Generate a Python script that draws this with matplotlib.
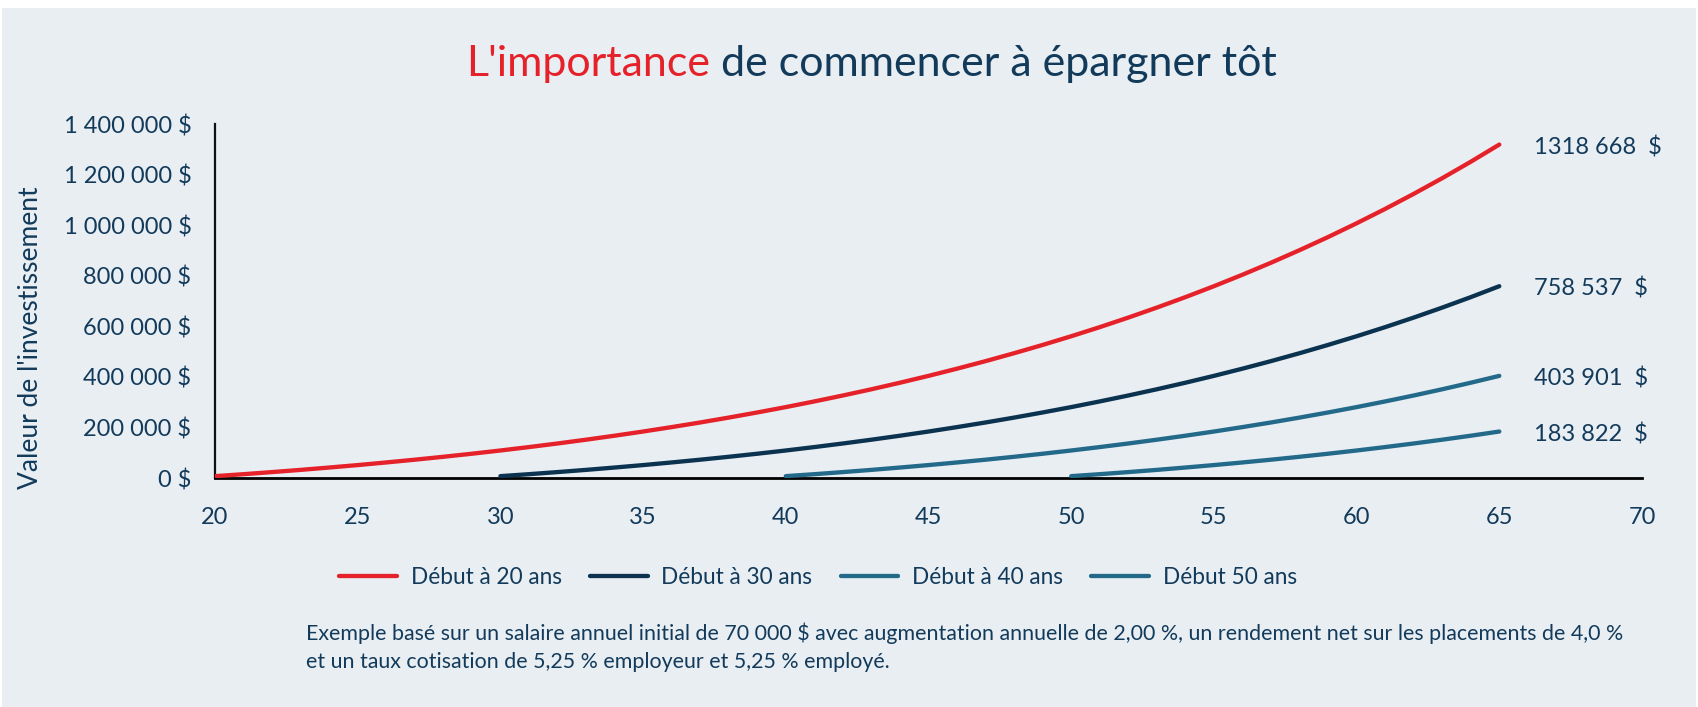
import matplotlib
matplotlib.use("Agg")
import matplotlib.pyplot as plt
from matplotlib.patches import Rectangle

plt.rcParams['font.family'] = ['Lato', 'DejaVu Sans']

# ages (x) and investment values
ages_20 = list(range(20, 66))
ages_30 = list(range(30, 66))
ages_40 = list(range(40, 66))
ages_50 = list(range(50, 66))

debut_20 = [7350, 15100, 23400, 32100, 41400, 51100, 61500, 72400, 83900, 96000,
            108800, 122300, 136500, 151500, 167200, 183800, 201300, 219600, 238900, 259200,
            280400, 302800, 326300, 350900, 376800, 403900, 432400, 462200, 493500, 526300,
            560600, 596600, 634400, 673900, 715200, 758500, 803900, 851300, 901000, 952900,
            1007300, 1064100, 1123600, 1185700, 1250700, 1318668]
debut_30 = [7350, 15100, 23400, 32100, 41400, 51100, 61500, 72400, 83900, 96000,
            108800, 122300, 136500, 151500, 167200, 183800, 201300, 219600, 238900, 259200,
            280400, 302800, 326300, 350900, 376800, 403900, 432400, 462200, 493500, 526300,
            560600, 596600, 634400, 673900, 715200, 758537]
debut_40 = [7350, 15100, 23400, 32100, 41400, 51100, 61500, 72400, 83900, 96000,
            108800, 122300, 136500, 151500, 167200, 183800, 201300, 219600, 238900, 259200,
            280400, 302800, 326300, 350900, 376800, 403901]
debut_50 = [7350, 15100, 23400, 32100, 41400, 51100, 61500, 72400, 83900, 96000,
            108800, 122300, 136500, 151500, 167200, 183822]

series_names = ["Début à 20 ans", "Début à 30 ans", "Début à 40 ans", "Début 50 ans"]
end_labels = ["1318 668  $", "758 537  $", "403 901  $", "183 822  $"]

y_ticks = [0, 200000, 400000, 600000, 800000, 1000000, 1200000, 1400000]
y_tick_labels = ["0 $", "200 000 $", "400 000 $", "600 000 $", "800 000 $",
                 "1 000 000 $", "1 200 000 $", "1 400 000 $"]
x_ticks = [20, 25, 30, 35, 40, 45, 50, 55, 60, 65, 70]

RED = "#E52229"
NAVY = "#0B3350"
TEAL = "#236A8A"
TXT = "#123A5A"
BG = "#E9EEF3"

W, H = 1698, 707
fig = plt.figure(figsize=(W / 100, H / 100), dpi=100, facecolor="white")
fig.patches.append(Rectangle((2 / W, 0), 1694 / W, 699 / H, transform=fig.transFigure,
                             facecolor=BG, edgecolor="none", zorder=-10))

ax = fig.add_axes([215 / W, 1 - 478 / H, 1427 / W, 354 / H])
ax.set_facecolor("none")

xs = [ages_20, ages_30, ages_40, ages_50]
ys = [debut_20, debut_30, debut_40, debut_50]
colors = [RED, NAVY, TEAL, TEAL]
for x, y, c, name, lab in zip(xs, ys, colors, series_names, end_labels):
    ax.plot(x, y, color=c, lw=3.1, solid_capstyle="round", label=name, zorder=3)
    ax.annotate(lab, xy=(x[-1], y[-1]), xytext=(25, -2), textcoords="offset points",
                va="center", ha="left", fontsize=17, color=TXT)

ax.set_xlim(20, 70)
ax.set_ylim(0, 1400000)
ax.set_xticks(x_ticks)
ax.set_yticks(y_ticks)
ax.set_yticklabels(y_tick_labels)
ax.tick_params(length=0, labelsize=17, labelcolor=TXT)
ax.tick_params(axis="y", pad=17)
ax.tick_params(axis="x", pad=21)
for s in ["top", "right"]:
    ax.spines[s].set_visible(False)
ax.spines["left"].set_linewidth(1.6)
ax.spines["bottom"].set_linewidth(2)
ax.spines["left"].set_color("#111111")
ax.spines["bottom"].set_color("#000000")

fig.text(31 / W, 1 - 338 / H, "Valeur de l'investissement", rotation=90,
         ha="center", va="center", fontsize=19, color=TXT)

# two-colour title
t1 = fig.text(466 / W, 1 - 76 / H, "L'importance", color=RED, fontsize=31,
              ha="left", va="baseline")
ax.annotate(" de commencer à épargner tôt", xy=(1, 0), xycoords=t1,
            ha="left", va="bottom", color=TXT, fontsize=31)

leg = ax.legend(loc="center", bbox_to_anchor=(818 / W, 1 - 577 / H),
                bbox_transform=fig.transFigure, ncol=4, frameon=False,
                fontsize=16.3, handlelength=2.55, handletextpad=0.6, columnspacing=1.25)
for t in leg.get_texts():
    t.set_color(TXT)

fig.text(306 / W, 1 - 633 / H,
         "Exemple basé sur un salaire annuel initial de 70 000 $ avec augmentation annuelle "
         "de 2,00 %, un rendement net sur les placements de 4,0 %",
         ha="left", va="center", fontsize=15.4, color=TXT)
fig.text(306 / W, 1 - 662 / H,
         "et un taux cotisation de 5,25 % employeur et 5,25 % employé.",
         ha="left", va="center", fontsize=15.4, color=TXT)

fig.savefig("out.png", dpi=100, facecolor="white")
